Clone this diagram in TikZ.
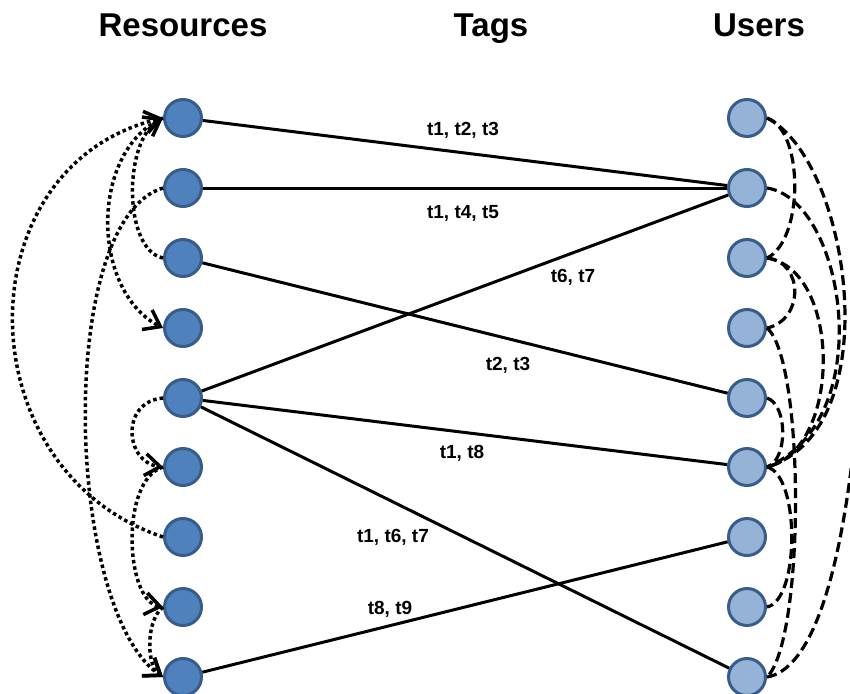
\documentclass[tikz,border=0pt]{standalone}
\usepackage{fontspec}
\setmainfont{Liberation Sans}
\usepackage{tikz}
\usetikzlibrary{arrows.meta}
\definecolor{resfill}{HTML}{4F81BD}
\definecolor{usrfill}{HTML}{95B3D7}
\definecolor{nodeedge}{HTML}{385D8A}

\begin{document}
\begin{tikzpicture}[x=1pt,y=-1pt,
  res/.style={circle,draw=nodeedge,fill=resfill,line width=3pt,minimum size=37pt,inner sep=0pt},
  usr/.style={res,fill=usrfill},
  hdr/.style={anchor=base,font=\fontsize{33}{40}\selectfont\bfseries},
  taglbl/.style={font=\fontsize{19}{23}\selectfont\bfseries},
  link/.style={line width=3pt},
  resarc/.style={line width=3.5pt,dash pattern=on 3.5pt off 3pt,-{Straight Barb[length=15pt,width=22pt]}},
  usrarc/.style={line width=3.2pt,dash pattern=on 10pt off 5pt}]
\useasboundingbox (0,0) rectangle (850,693);
\clip (0,0) rectangle (850,693);
% column heads
\node[hdr] (hres) at (183,37) {Resources}; \node[hdr] (htag) at (491,37) {Tags}; \node[hdr] (husr) at (759,37) {Users};
% resources and users
\node[res] (r1) at (183,118) {}; \node[usr] (u1) at (747,118) {};
\node[res] (r2) at (183,188) {}; \node[usr] (u2) at (747,188) {};
\node[res] (r3) at (183,258) {}; \node[usr] (u3) at (747,258) {};
\node[res] (r4) at (183,328) {}; \node[usr] (u4) at (747,328) {};
\node[res] (r5) at (183,398) {}; \node[usr] (u5) at (747,398) {};
\node[res] (r6) at (183,467) {}; \node[usr] (u6) at (747,467) {};
\node[res] (r7) at (183,537) {}; \node[usr] (u7) at (747,537) {};
\node[res] (r8) at (183,607) {}; \node[usr] (u8) at (747,607) {};
\node[res] (r9) at (183,677) {}; \node[usr] (u9) at (747,677) {};
\coordinate (off) at (860,380);
% tag assignments
\draw[link] (r1) -- (u2); \node[taglbl] (tg1) at (463,130) {t1, t2, t3};
\draw[link] (r2) -- (u2); \node[taglbl] (tg2) at (463,213) {t1, t4, t5};
\draw[link] (r5) -- (u2); \node[taglbl] (tg3) at (573,277) {t6, t7};
\draw[link] (r3) -- (u5); \node[taglbl] (tg4) at (508,365) {t2, t3};
\draw[link] (r5) -- (u6); \node[taglbl] (tg5) at (462,453) {t1, t8};
\draw[link] (r5) -- (u9); \node[taglbl] (tg6) at (393,537) {t1, t6, t7};
\draw[link] (r9) -- (u7); \node[taglbl] (tg7) at (390,609) {t8, t9};
% resource links
\draw[resarc] (r7.west) .. controls (-37,470) and (-37,165) .. (r1.west);
\draw[resarc] (r3.west) .. controls (123,250) and (123,140) .. (r1.west);
\draw[resarc] (r1.west) .. controls (90,150) and (90,290) .. (r4.west);
\draw[resarc] (r2.west) .. controls (55,220) and (65,610) .. (r9.west);
\draw[resarc] (r5.west) .. controls (120,402) and (125,462) .. (r6.west);
\draw[resarc] (r6.west) .. controls (120,480) and (125,600) .. (r8.west);
\draw[resarc] (r8.west) .. controls (146,620) and (146,665) .. (r9.west);
% user links
\draw[usrarc] (u1.east) .. controls (804,130) and (804,240) .. (u3.east);
\draw[usrarc] (u1.east) .. controls (850,160) and (890,430) .. (u6.east);
\draw[usrarc] (u2.east) .. controls (845,200) and (880,420) .. (u6.east);
\draw[usrarc] (u3.east) .. controls (804,262) and (804,320) .. (u4.east);
\draw[usrarc] (u3.east) .. controls (842,270) and (842,450) .. (u6.east);
\draw[usrarc] (u4.east) .. controls (805,360) and (805,640) .. (u9.east);
\draw[usrarc] (u5.east) .. controls (788,405) and (788,460) .. (u6.east);
\draw[usrarc] (u6.east) .. controls (800,475) and (800,600) .. (u8.east);
\draw[usrarc] (u9.east) .. controls (810,670) and (845,580) .. (off);
\end{tikzpicture}
\end{document}
